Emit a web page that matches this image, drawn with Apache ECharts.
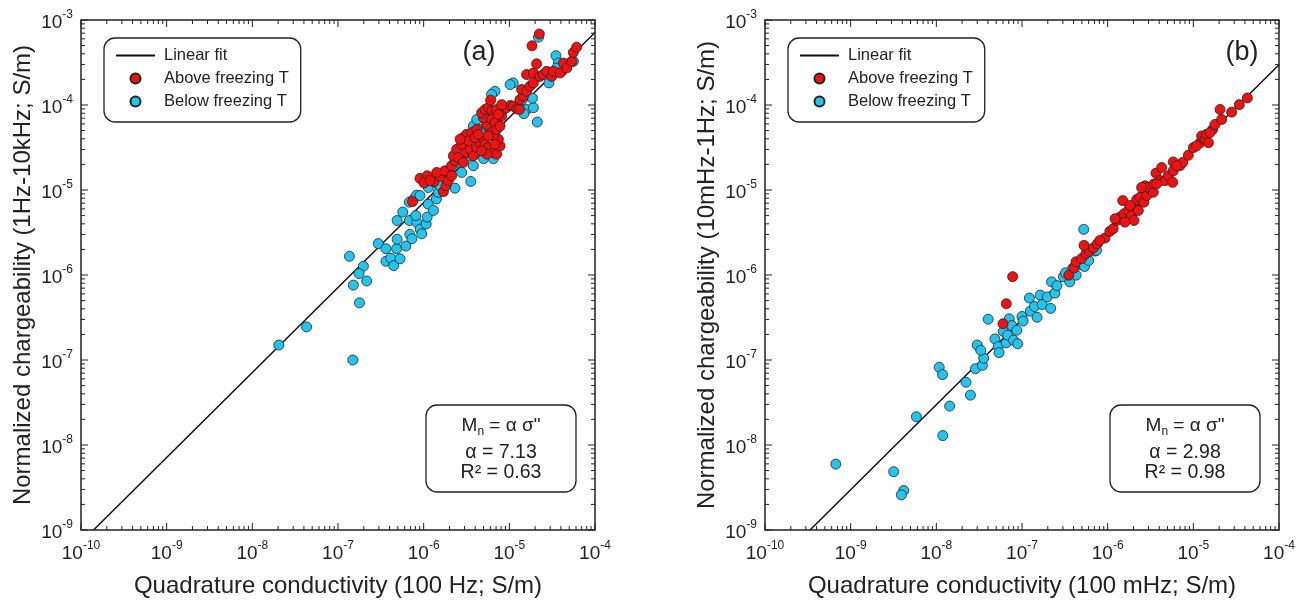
<!DOCTYPE html>
<html>
<head>
<meta charset="utf-8">
<script src="https://cdn.jsdelivr.net/npm/echarts@6/dist/echarts.min.js"></script>
<style>
  html, body { margin: 0; padding: 0; background: #fff; }
  #chart { width: 1312px; height: 603px; }
</style>
</head>
<body>
<div id="chart"></div>
<script>
// ---- axis ranges (decades) ----
const X_EXP_RANGE = [-10, -4];
const Y_EXP_RANGE = [-9, -3];

// ---- panel titles and fit results ----
const panelTags = ['(a)', '(b)'];
const xTitles = ['Quadrature conductivity (100 Hz; S/m)', 'Quadrature conductivity (100 mHz; S/m)'];
const yTitles = ['Normalized chargeability (1Hz-10kHz; S/m)', 'Normalized chargeability (10mHz-1Hz; S/m)'];
const fitAlpha = [7.13, 2.98];
const fitR2 = ['0.63', '0.98'];
const legendNames = ['Linear fit', 'Above freezing T', 'Below freezing T'];

// ---- panel (a): 1 Hz-10 kHz chargeability vs 100 Hz quadrature conductivity ----
const aBelow = [
  [2.04e-8,1.5e-7],[4.3e-8,2.45e-7],[1.49e-7,1.0e-7],
  [1.36e-7,1.66e-6],[1.98e-7,1.27e-6],[1.76e-7,1.04e-6],[1.51e-7,7.6e-7],[2.16e-7,8.5e-7],[1.78e-7,4.7e-7],
  [2.95e-7,2.34e-6],[3.63e-7,2.04e-6],[3.63e-7,1.45e-6],[4.12e-7,1.58e-6],[4.47e-7,1.29e-6],[4.84e-7,2.04e-6],
  [4.9e-7,2.63e-6],[5.3e-7,1.55e-6],[6.2e-7,2.19e-6],[4.9e-7,4.37e-6],[5.7e-7,5.5e-6],[6.9e-7,3.0e-6],
  [7.3e-7,2.67e-6],[6.8e-7,4.37e-6],[8.3e-7,4.17e-6],[8.1e-7,5.0e-6],[9.1e-7,3.47e-6],[9.5e-7,3.05e-6],
  [1.07e-6,3.98e-6],[1.1e-6,4.8e-6],[1.13e-6,6.8e-6],[6.8e-7,7.2e-6],[7.6e-7,7.8e-6],[8.3e-7,8.7e-6],
  [9.06e-7,8.6e-6],[1.3e-6,5.75e-6],[1.41e-6,7.85e-6],[1.48e-6,9.4e-6],[1.13e-6,1.07e-5],[1.36e-6,1.23e-5],
  [1.55e-6,1.12e-5],[1.86e-6,1.41e-5],[2.04e-6,1.61e-5],[2.32e-6,1.05e-5],[2.78e-6,1.61e-5],[3.55e-6,1.26e-5],
  [2.54e-6,2.11e-5],[2.9e-6,2.2e-5],[3.33e-6,2.52e-5],[3.8e-6,1.93e-5],[4.16e-6,2.75e-5],[5.0e-6,2.34e-5],
  [6.5e-6,2.34e-5],[4.75e-6,5.2e-5],[5.45e-6,5.65e-5],[3.8e-6,5.65e-5],[4.17e-6,6.76e-5],[6.8e-6,1.45e-4],
  [6.2e-6,1.33e-4],[1.11e-5,1.82e-4],[1.02e-5,1.74e-4],[1.33e-5,1.06e-4],[1.59e-5,8.85e-5],[2.12e-5,6.3e-5],
  [1.91e-5,9.3e-5],[2.19e-5,6.27e-4],[2.9e-5,1.82e-4],[3.5e-5,3.8e-4],[3.73e-5,3.11e-4],[4.68e-5,2.84e-4],
  [3.57e-5,2.72e-4],[5.6e-5,3.26e-4],[4.08e-5,2.49e-4],[1.41e-5,1.15e-4],[1.48e-5,7.9e-5],[1.86e-5,1.2e-4]
];
const aAbove = [
  [7.4e-7,7.3e-6],[9.06e-7,1.37e-5],[1.1e-6,1.47e-5],[1.01e-6,1.21e-5],[1.32e-6,1.25e-5],[1.55e-6,1.45e-5],
  [1.7e-6,9.55e-6],[1.82e-6,1.12e-5],[1.94e-6,1.29e-5],[1.77e-6,1.68e-5],[2.12e-6,1.93e-5],[2.32e-6,2.2e-5],
  [2.22e-6,2.52e-5],[2.43e-6,3.02e-5],[2.78e-6,3.45e-5],[2.9e-6,4.13e-5],[3.18e-6,4.52e-5],[3.63e-6,4.72e-5],
  [4.16e-6,5.16e-5],[2.54e-6,2.41e-5],[3.18e-6,2.75e-5],[3.48e-6,3.02e-5],[3.8e-6,2.52e-5],[4.16e-6,3.16e-5],
  [4.55e-6,3.61e-5],[4.98e-6,3.95e-5],[5.2e-6,3.45e-5],[5.69e-6,3.16e-5],[6.5e-6,2.75e-5],[7.1e-6,2.64e-5],
  [7.8e-6,3.3e-5],[7.45e-6,3.95e-5],[6.5e-6,4.32e-5],[5.94e-6,5.16e-5],[5.45e-6,5.9e-5],[4.98e-6,7.08e-5],
  [4.75e-6,8.1e-5],[5.2e-6,8.85e-5],[5.69e-6,9.27e-5],[6.22e-6,8.47e-5],[6.5e-6,7.4e-5],[6.05e-6,1.14e-4],
  [6.22e-6,6.76e-5],[6.8e-6,6.18e-5],[7.1e-6,5.16e-5],[7.8e-6,5.65e-5],[8.15e-6,7.4e-5],[8.5e-6,8.85e-5],
  [9.3e-6,9.27e-5],[1.02e-5,9.86e-5],[1.11e-5,9.7e-5],[1.22e-5,9.0e-5],[1.31e-5,8.85e-5],[1.33e-5,1.16e-4],
  [1.46e-5,1.27e-4],[1.39e-5,1.52e-4],[1.59e-5,1.45e-4],[1.74e-5,1.66e-4],[1.91e-5,1.82e-4],[1.59e-5,2.28e-4],
  [1.91e-5,2.38e-4],[2.08e-5,3.05e-4],[1.84e-5,4.97e-4],[2.24e-5,6.85e-4],[2.28e-5,2.17e-4],[2.49e-5,2.28e-4],
  [2.73e-5,2.49e-4],[3.12e-5,2.17e-4],[3.27e-5,2.49e-4],[3.91e-5,2.38e-4],[4.28e-5,3.11e-4],[4.68e-5,2.72e-4],
  [5.35e-5,3.26e-4],[5.58e-5,4.15e-4],[6.1e-5,4.79e-4],[3.33e-6,3.78e-5],[3.97e-6,4.13e-5],[5.69e-6,4.32e-5],
  [6.8e-6,3.45e-5],[5.45e-6,2.64e-5],[4.75e-6,2.88e-5],[7.1e-6,8.85e-5],[7.45e-6,7.74e-5],[8.15e-6,1.01e-4],
  [2.66e-6,3.95e-5],[1.42e-6,1.61e-5],[1.19e-6,1.29e-5],[2.12e-6,1.47e-5],[2.9e-6,2.11e-5],[4.35e-6,4.52e-5]
];

// ---- panel (b): 10 mHz-1 Hz chargeability vs 100 mHz quadrature conductivity ----
const bBelow = [
  [6.7e-10,5.96e-9],[3.18e-9,4.85e-9],[4.16e-9,2.91e-9],[3.9e-9,2.59e-9],[5.85e-9,2.15e-8],[1.19e-8,1.29e-8],
  [1.08e-8,8.2e-8],[1.18e-8,6.73e-8],[1.43e-8,2.87e-8],[2.22e-8,5.47e-8],[2.5e-8,3.86e-8],[2.86e-8,7.9e-8],
  [3.45e-8,8.65e-8],[3.57e-8,1.05e-7],[3.0e-8,1.5e-7],[3.3e-8,1.3e-7],
  [4.03e-8,3.02e-7],[4.83e-8,1.77e-7],[5.28e-8,1.44e-7],[5.4e-8,1.22e-7],[6.05e-8,2.17e-7],[6.55e-8,1.59e-7],
  [7.1e-8,3.05e-7],[6.8e-8,1.96e-7],[7.6e-8,2.54e-7],[7.96e-8,1.71e-7],[8.7e-8,2.24e-7],[8.9e-8,1.55e-7],
  [1.0e-7,3.25e-7],[1.03e-7,2.87e-7],[1.22e-7,5.35e-7],[1.25e-7,3.76e-7],[1.4e-7,4.26e-7],[1.5e-7,3.18e-7],
  [1.63e-7,5.8e-7],[1.72e-7,4.49e-7],[1.97e-7,5.52e-7],[2.16e-7,4.05e-7],[2.21e-7,8.3e-7],[2.42e-7,6.12e-7],
  [2.56e-7,7.5e-7],[3.04e-7,9.55e-7],[3.22e-7,1.06e-6],[3.61e-7,8.3e-7],[3.91e-7,1.2e-6],[4.28e-7,9.95e-7],
  [4.68e-7,1.33e-6],[5.37e-7,1.26e-6],[5.25e-7,3.44e-6],[6.0e-7,1.48e-6],[7.13e-7,1.91e-6],[7.4e-7,1.95e-6]
];
const bAbove = [
  [6.0e-8,2.67e-7],[6.56e-8,4.58e-7],[7.78e-8,9.55e-7],[3.52e-7,9.95e-7],[4.05e-7,1.21e-6],[4.27e-7,1.43e-6],
  [4.97e-7,1.56e-6],[5.58e-7,1.78e-6],[6.1e-7,1.9e-6],[5.3e-7,2.23e-6],[6.8e-7,2.08e-6],[7.57e-7,2.33e-6],
  [9.3e-7,2.72e-6],[1.06e-6,3.26e-6],[1.16e-6,3.5e-6],[1.27e-6,4.38e-6],[1.39e-6,4.79e-6],[1.5e-6,7.5e-6],
  [1.22e-6,4.58e-6],[1.55e-6,5.24e-6],[1.74e-6,5.73e-6],[1.9e-6,5.0e-6],[2.03e-6,4.38e-6],[2.08e-6,6.56e-6],
  [2.18e-6,7.7e-6],[2.38e-6,8.2e-6],[2.28e-6,5.73e-6],[2.65e-6,7.18e-6],[2.85e-6,8.6e-6],[2.73e-6,1.12e-5],
  [2.99e-6,1.07e-5],[3.41e-6,9.4e-6],[3.48e-6,1.18e-5],[3.66e-6,1.58e-5],[4.27e-6,1.84e-5],[4.08e-6,1.29e-5],
  [4.67e-6,1.29e-5],[5.1e-6,1.47e-5],[5.83e-6,1.68e-5],[5.74e-6,1.23e-5],[5.83e-6,2.14e-5],[6.98e-6,1.93e-5],
  [7.5e-6,2.11e-5],[8.74e-6,2.56e-5],[1.0e-5,3.15e-5],[1.2e-5,3.6e-5],[1.25e-5,4.32e-5],[1.37e-5,3.95e-5],
  [1.43e-5,4.52e-5],[1.5e-5,3.6e-5],[1.68e-5,5.16e-5],[1.79e-5,5.91e-5],[2.05e-5,8.86e-5],[2.14e-5,6.76e-5],
  [2.8e-5,8.24e-5],[3.44e-5,1.01e-4],[4.27e-5,1.21e-4],[1.82e-6,6.56e-6],[1.59e-6,4.19e-6],[2.49e-6,1.07e-5],
  [3.73e-6,1.18e-5],[6.38e-6,1.93e-5],[1.09e-5,3.3e-5],[1.56e-5,4.72e-5],[8.1e-7,2.55e-6]
];

const panelAbove = [aAbove, bAbove];
const panelBelow = [aBelow, bBelow];

// ---- styling ----
const FONT = '"Liberation Sans", Arial, Helvetica, sans-serif';
const INK = '#222';
const RED = '#f21010';
const CYAN = '#20c6f0';
const GRID_LEFT = [81, 765];
const GRID_TOP = 20, GRID_W = 514, GRID_H = 513;
const MAJOR_TICK = 7, MINOR_TICK = 4;

const X_MIN = Math.pow(10, X_EXP_RANGE[0]), X_MAX = Math.pow(10, X_EXP_RANGE[1]);
const Y_MIN = Math.pow(10, Y_EXP_RANGE[0]), Y_MAX = Math.pow(10, Y_EXP_RANGE[1]);

// decade labels as 10 with a raised exponent
function powLabel(v) {
  const e = Math.round(Math.log10(v));
  return '{b|10}{e|' + e + '}';
}
const labelRich = {
  b: { fontSize: 19, lineHeight: 22, padding: [6, 0, 0, 0], fontFamily: FONT, color: INK },
  e: { fontSize: 12, lineHeight: 14, verticalAlign: 'top', fontFamily: FONT, color: INK }
};

function xAxisOpt(gi) {
  return {
    type: 'log', logBase: 10, gridIndex: gi, min: X_MIN, max: X_MAX, splitNumber: 6,
    name: xTitles[gi], nameLocation: 'middle', nameGap: 44,
    nameTextStyle: { fontSize: 24, color: INK, fontFamily: FONT },
    axisLine: { show: false }, axisTick: { show: false }, splitLine: { show: false },
    axisLabel: { formatter: powLabel, margin: 10, rich: labelRich }
  };
}
function yAxisOpt(gi) {
  return {
    type: 'log', logBase: 10, gridIndex: gi, min: Y_MIN, max: Y_MAX, splitNumber: 6,
    name: yTitles[gi], nameLocation: 'middle', nameGap: 46,
    nameTextStyle: { fontSize: 24, color: INK, fontFamily: FONT },
    axisLine: { show: false }, axisTick: { show: false }, splitLine: { show: false },
    axisLabel: { formatter: powLabel, margin: 8, rich: labelRich }
  };
}

// log-style major and minor ticks pointing inward on all four sides of a panel
function frameTicks(gi) {
  return {
    type: 'custom', xAxisIndex: gi, yAxisIndex: gi, silent: true, clip: false, z: 4,
    data: [[X_MIN * 100, Y_MIN * 100]],
    renderItem: function (params, api) {
      const lo = api.coord([X_MIN, Y_MIN]);
      const hi = api.coord([X_MAX, Y_MAX]);
      const kids = [];
      const seg = (x1, y1, x2, y2) => kids.push({
        type: 'line', shape: { x1, y1, x2, y2 }, style: { stroke: INK, lineWidth: 1 }
      });
      for (let e = X_EXP_RANGE[0]; e <= X_EXP_RANGE[1]; e++) {
        for (let k = 1; k <= 9; k++) {
          if (e === X_EXP_RANGE[1] && k > 1) break;
          const px = api.coord([k * Math.pow(10, e), Y_MIN])[0];
          const len = k === 1 ? MAJOR_TICK : MINOR_TICK;
          seg(px, lo[1], px, lo[1] - len);
          seg(px, hi[1], px, hi[1] + len);
        }
      }
      for (let e = Y_EXP_RANGE[0]; e <= Y_EXP_RANGE[1]; e++) {
        for (let k = 1; k <= 9; k++) {
          if (e === Y_EXP_RANGE[1] && k > 1) break;
          const py = api.coord([X_MIN, k * Math.pow(10, e)])[1];
          const len = k === 1 ? MAJOR_TICK : MINOR_TICK;
          seg(lo[0], py, lo[0] + len, py);
          seg(hi[0], py, hi[0] - len, py);
        }
      }
      return { type: 'group', children: kids };
    }
  };
}

// fitted line M = alpha * sigma, drawn from the bottom of the panel to its right edge
function fitLine(gi) {
  const a = fitAlpha[gi];
  const x0 = Y_MIN / a;
  return {
    name: legendNames[0], type: 'line', xAxisIndex: gi, yAxisIndex: gi,
    data: [[x0, a * x0], [X_MAX, a * X_MAX]],
    symbol: 'none', silent: true, z: 2,
    itemStyle: { color: '#111' },
    lineStyle: { color: '#111', width: 1.5 }
  };
}
function scatter(gi, name, data, color, z) {
  return {
    name, type: 'scatter', xAxisIndex: gi, yAxisIndex: gi, data,
    symbol: 'circle', symbolSize: 10, z,
    itemStyle: { color, borderColor: INK, borderWidth: 0.8, opacity: 1 },
    emphasis: { disabled: true }
  };
}

const grids = [0, 1].map(gi => ({
  left: GRID_LEFT[gi], top: GRID_TOP, width: GRID_W, height: GRID_H,
  show: true, borderColor: INK, borderWidth: 1.5, backgroundColor: 'transparent'
}));

const legends = [0, 1].map(gi => ({
  left: GRID_LEFT[gi] + 23, top: 38, orient: 'vertical',
  data: [
    { name: legendNames[0], itemStyle: { opacity: 0 } },
    legendNames[1], legendNames[2]
  ],
  itemWidth: 39, itemHeight: 10, itemGap: 6,
  padding: [9, 12, 12, 11],
  borderColor: INK, borderWidth: 1.3, borderRadius: 11, backgroundColor: '#fff',
  textStyle: { fontSize: 16.5, color: INK, fontFamily: FONT, padding: [0, 0, 0, 4] },
  selectedMode: false
}));

// annotation box with the fit equation and (a)/(b) tags
const graphics = [];
[0, 1].forEach(gi => {
  const bx = GRID_LEFT[gi] + 345, by = 405, bw = 150, bh = 87;
  const cx = bx + bw / 2;
  graphics.push({
    type: 'rect', shape: { x: bx, y: by, width: bw, height: bh, r: 11 },
    style: { fill: '#fff', stroke: INK, lineWidth: 1.3 }, z: 10
  });
  graphics.push({
    type: 'text', x: cx, y: by + 21, z: 11,
    style: {
      text: '{m|M}{s|n}{m| = α σ"}', align: 'center', verticalAlign: 'middle',
      rich: {
        m: { fontSize: 19, fontFamily: FONT, fill: INK },
        s: { fontSize: 12, fontFamily: FONT, fill: INK, padding: [11, 0, 0, 0] }
      }
    }
  });
  graphics.push({
    type: 'text', x: cx, y: by + 48, z: 11,
    style: { text: 'α = ' + fitAlpha[gi].toFixed(2), align: 'center', verticalAlign: 'middle',
      fontSize: 19.5, fontFamily: FONT, fill: INK }
  });
  graphics.push({
    type: 'text', x: cx, y: by + 68, z: 11,
    style: { text: 'R² = ' + fitR2[gi], align: 'center', verticalAlign: 'middle',
      fontSize: 19.5, fontFamily: FONT, fill: INK }
  });
  graphics.push({
    type: 'text', x: GRID_LEFT[gi] + (gi === 0 ? 398 : 477), y: 53, z: 11,
    style: { text: panelTags[gi], align: 'center', verticalAlign: 'middle',
      fontSize: 27, fontFamily: FONT, fill: INK }
  });
});

const series = [];
[0, 1].forEach(gi => {
  series.push(fitLine(gi));
  series.push(scatter(gi, legendNames[2], panelBelow[gi], CYAN, 3));
  series.push(scatter(gi, legendNames[1], panelAbove[gi], RED, 3));
  series.push(frameTicks(gi));
});

const chart = echarts.init(document.getElementById('chart'), null, { renderer: 'canvas' });
chart.setOption({
  animation: false,
  backgroundColor: '#fff',
  textStyle: { fontFamily: FONT },
  grid: grids,
  xAxis: [xAxisOpt(0), xAxisOpt(1)],
  yAxis: [yAxisOpt(0), yAxisOpt(1)],
  legend: legends,
  graphic: graphics,
  series
});
</script>
</body>
</html>
